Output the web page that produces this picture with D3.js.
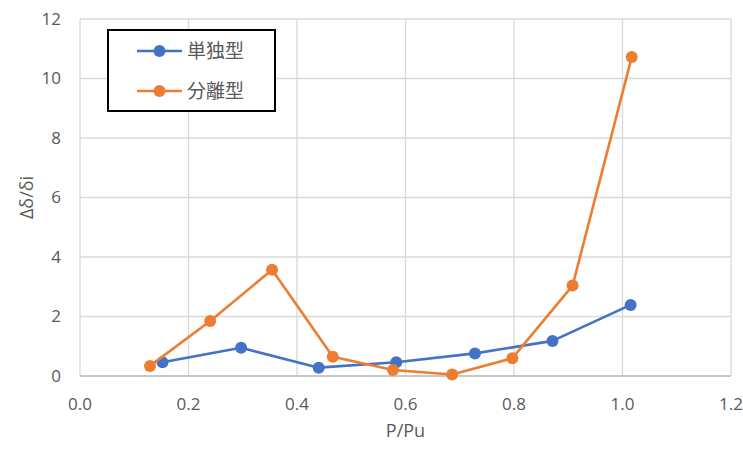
<!DOCTYPE html>
<html><head><meta charset="utf-8">
<script src="https://cdn.jsdelivr.net/npm/d3@7"></script>
<style>body{margin:0;background:#fff}svg{display:block}</style>
</head><body><svg id="c" width="743" height="449"></svg>
<script>
const xTicks = [0, 0.2, 0.4, 0.6, 0.8, 1.0, 1.2];
const yTicks = [0, 2, 4, 6, 8, 10, 12];
const seriesNames = ["単独型", "分離型"];
const tandokuX = [0.152, 0.297, 0.44, 0.583, 0.728, 0.871, 1.015];
const tandokuY = [0.46, 0.95, 0.28, 0.46, 0.76, 1.18, 2.39];
const bunriX = [0.129, 0.24, 0.354, 0.466, 0.577, 0.686, 0.797, 0.908, 1.017];
const bunriY = [0.34, 1.85, 3.57, 0.65, 0.2, 0.05, 0.6, 3.04, 10.72];
const colors = ["#4472C4", "#ED7D31"];

const svg = d3.select("#c");
const L = 80, R = 731, T = 19, B = 376;
const x = d3.scaleLinear().domain([0, 1.2]).range([L, R]);
const y = d3.scaleLinear().domain([0, 12]).range([B, T]);
const font = "'Open Sans', 'Noto Sans', sans-serif";

// gridlines
svg.append("g").selectAll("line").data(yTicks).join("line")
  .attr("x1", L).attr("x2", R).attr("y1", d => y(d)).attr("y2", d => y(d))
  .attr("stroke", "#d9d9d9").attr("stroke-width", 1.3);
svg.append("g").selectAll("line").data(xTicks).join("line")
  .attr("x1", d => x(d)).attr("x2", d => x(d)).attr("y1", T).attr("y2", B)
  .attr("stroke", "#d9d9d9").attr("stroke-width", 1.3);
svg.append("line").attr("x1", L).attr("x2", R).attr("y1", B).attr("y2", B)
  .attr("stroke", "#bfbfbf").attr("stroke-width", 1.3);

// tick labels
svg.append("g").selectAll("text").data(yTicks).join("text")
  .attr("x", 61).attr("y", d => y(d)).attr("dy", "0.35em")
  .attr("text-anchor", "end").attr("font-family", font).attr("font-size", 17)
  .attr("fill", "#595959").text(d => d);
svg.append("g").selectAll("text").data(xTicks).join("text")
  .attr("x", d => x(d)).attr("y", 404).attr("dy", "0.35em")
  .attr("text-anchor", "middle").attr("font-family", font).attr("font-size", 17)
  .attr("fill", "#595959").text(d => d3.format(".1f")(d));

// axis titles
svg.append("text").attr("x", x(0.6)).attr("y", 437).attr("text-anchor", "middle")
  .attr("font-family", font).attr("font-size", 18).attr("fill", "#595959").text("P/Pu");
svg.append("text").attr("transform", `translate(33,${(T + B) / 2}) rotate(-90)`)
  .attr("text-anchor", "middle").attr("font-family", font).attr("font-size", 18)
  .attr("fill", "#595959").text("Δδ/δi");

// series
const series = [
  { name: seriesNames[0], pts: tandokuX.map((v, i) => [v, tandokuY[i]]), color: colors[0] },
  { name: seriesNames[1], pts: bunriX.map((v, i) => [v, bunriY[i]]), color: colors[1] }
];
const line = d3.line().x(d => x(d[0])).y(d => y(d[1]));
series.forEach(s => {
  svg.append("path").attr("d", line(s.pts)).attr("fill", "none")
    .attr("stroke", s.color).attr("stroke-width", 2.6).attr("stroke-linejoin", "round");
  svg.append("g").selectAll("circle").data(s.pts).join("circle")
    .attr("cx", d => x(d[0])).attr("cy", d => y(d[1])).attr("r", 6).attr("fill", s.color);
});

// legend
const lg = svg.append("g");
lg.append("rect").attr("x", 108).attr("y", 30).attr("width", 167).attr("height", 81)
  .attr("fill", "#fff").attr("stroke", "#000").attr("stroke-width", 2);
series.forEach((s, i) => {
  const ly = 51 + i * 40;
  lg.append("line").attr("x1", 137).attr("x2", 182).attr("y1", ly).attr("y2", ly)
    .attr("stroke", s.color).attr("stroke-width", 2.6);
  lg.append("circle").attr("cx", 159.5).attr("cy", ly).attr("r", 6).attr("fill", s.color);
  lg.append("text").attr("x", 187).attr("y", ly).attr("dy", "0.35em")
    .attr("font-family", "'Noto Sans CJK JP', sans-serif").attr("font-size", 19)
    .attr("fill", "#595959").text(s.name);
});
</script></body></html>
